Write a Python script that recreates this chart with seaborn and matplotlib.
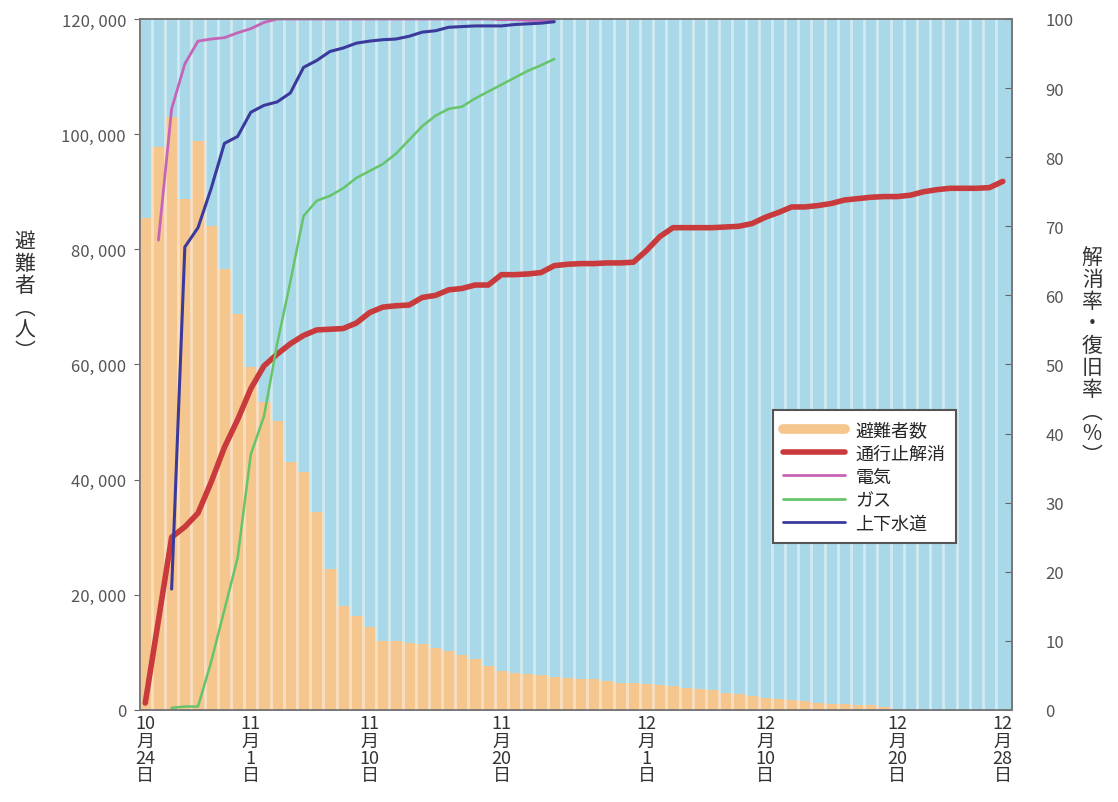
import seaborn as sns
import pandas as pd
import matplotlib.pyplot as plt
from matplotlib.lines import Line2D

# day offsets from Oct 24 (0) to Dec 28 (65)
days = list(range(66))
tick_days = [0, 8, 17, 27, 38, 47, 57, 65]
tick_labels = ['10\n月\n24\n日', '11\n月\n1\n日', '11\n月\n10\n日', '11\n月\n20\n日',
               '12\n月\n1\n日', '12\n月\n10\n日', '12\n月\n20\n日', '12\n月\n28\n日']

evacuees = [85500, 97700, 103000, 88700, 98800, 84000, 76600, 68800, 59600, 53500,
            50200, 43000, 41300, 34400, 24500, 18100, 16300, 14400, 12000, 12000,
            11700, 11500, 10800, 10300, 9500, 8800, 7600, 6800, 6500, 6300,
            6100, 5700, 5500, 5400, 5300, 5100, 4700, 4600, 4500, 4400,
            4200, 3800, 3600, 3400, 2900, 2700, 2500, 2100, 1900, 1700,
            1500, 1200, 1100, 1000, 900, 800, 500, 0, 0, 0,
            0, 0, 0, 0, 0, 0]

road = [1, 13, 25, 26.5, 28.5, 33, 38, 42, 46.5, 49.8,
        51.5, 53, 54.2, 55, 55.1, 55.2, 56, 57.5, 58.3, 58.5,
        58.6, 59.7, 60, 60.8, 61, 61.5, 61.5, 63, 63, 63.1,
        63.3, 64.3, 64.5, 64.6, 64.6, 64.7, 64.7, 64.8, 66.5, 68.5,
        69.8, 69.8, 69.8, 69.8, 69.9, 70, 70.4, 71.3, 72, 72.8,
        72.8, 73, 73.3, 73.8, 74, 74.2, 74.3, 74.3, 74.5, 75,
        75.3, 75.5, 75.5, 75.5, 75.6, 76.5]

elec_days = list(range(1, 32))
electricity = [68, 87, 93.5, 96.8, 97.1, 97.3, 98, 98.6, 99.5, 100,
               100, 100, 100, 100, 100, 100, 100, 100, 100, 100,
               100, 100, 100, 100, 100, 100, 99.9, 99.9, 99.8, 99.8,
               99.8]

util_days = list(range(2, 32))
gas = [0.3, 0.5, 0.5, 7, 14.5, 22, 37, 42.5, 53, 62,
       71.5, 73.7, 74.4, 75.5, 77, 78, 79, 80.5, 82.5, 84.5,
       86, 87, 87.3, 88.5, 89.5, 90.5, 91.5, 92.5, 93.3, 94.2]
water = [17.5, 67, 69.8, 75.5, 82, 83, 86.5, 87.5, 88, 89.3,
         93, 94, 95.3, 95.8, 96.5, 96.8, 97, 97.1, 97.5, 98.1,
         98.3, 98.8, 98.9, 99, 99, 99, 99.2, 99.3, 99.4, 99.6]

c_bg = '#a9d9e8'
c_bar = '#f5c68e'
c_road = '#c83a3c'
c_elec = '#c665b8'
c_gas = '#66c46a'
c_water = '#3b3a9c'

sns.set_style('white')
plt.rcParams['font.family'] = ['Noto Sans CJK JP', 'DejaVu Sans']

fig = plt.figure(figsize=(11.18, 8.03), dpi=100)
ax = fig.add_axes([0.1252, 0.1146, 0.7800, 0.8605])
ax.set_facecolor(c_bg)

sns.barplot(x=days, y=evacuees, color=c_bar, width=1.0, saturation=1,
            linewidth=0, ax=ax)

# white day stripes
for d in days:
    ax.axvline(d - 0.5, color='white', lw=2.0, alpha=0.45, zorder=3)

ax.set_xlim(-0.4, 65.7)
ax.set_ylim(0, 120000)
ax.set_yticks(range(0, 120001, 20000))
ax.set_yticklabels(['0' if v == 0 else f'{v:,}'.replace(',', ', ') for v in range(0, 120001, 20000)],
                   fontsize=12, color='#555555')
ax.set_xticks(tick_days)
ax.set_xticklabels(tick_labels, fontsize=13, linespacing=0.95, color='#333333')
ax.tick_params(axis='y', direction='out', length=4, color='#666666', pad=6)
ax.tick_params(axis='x', length=0, pad=3)
ax.set_xlabel('')
for s in ax.spines.values():
    s.set_color('#777777')
    s.set_linewidth(1.2)

ax2 = ax.twinx()
sns.lineplot(x=days, y=road, color=c_road, lw=4, ax=ax2)
sns.lineplot(x=elec_days, y=electricity, color=c_elec, lw=2, ax=ax2)
sns.lineplot(x=util_days, y=gas, color=c_gas, lw=1.8, ax=ax2)
sns.lineplot(x=util_days, y=water, color=c_water, lw=2.2, ax=ax2)
ax2.set_ylim(0, 100)
ax2.set_yticks(range(0, 101, 10))
ax2.set_yticklabels([str(v) for v in range(0, 101, 10)], fontsize=12, color='#555555')
ax2.tick_params(axis='y', direction='in', length=5, color='#666666', pad=24)
for s in ax2.spines.values():
    s.set_color('#777777')
    s.set_linewidth(1.2)

fig.text(0.022, 0.63, '避\n難\n者\n︵\n人\n︶', fontsize=15, color='#333333',
         ha='center', va='center', linespacing=1.0,
         family=['Noto Sans CJK JP', 'DejaVu Sans'])
fig.text(0.977, 0.555, '解\n消\n率\n・\n復\n旧\n率\n︵\n%\n︶', fontsize=15, color='#333333',
         ha='center', va='center', linespacing=1.0,
         family=['Noto Sans CJK JP', 'DejaVu Sans'])

handles = [Line2D([], [], color=c_bar, lw=7),
           Line2D([], [], color=c_road, lw=4),
           Line2D([], [], color=c_elec, lw=2),
           Line2D([], [], color=c_gas, lw=2),
           Line2D([], [], color=c_water, lw=2)]
labels = ['避難者数', '通行止解消', '電気', 'ガス', '上下水道']
leg = ax2.legend(handles, labels, loc='lower left', bbox_to_anchor=(0.715, 0.228),
                 fontsize=13, frameon=True, fancybox=False, handlelength=3.4,
                 borderpad=0.6, labelspacing=0.3, handletextpad=0.6)
leg.get_frame().set_edgecolor('#555555')
leg.get_frame().set_linewidth(1.5)
leg.get_frame().set_facecolor('white')
leg.get_frame().set_alpha(1)

fig.savefig('out.png', dpi=100)
